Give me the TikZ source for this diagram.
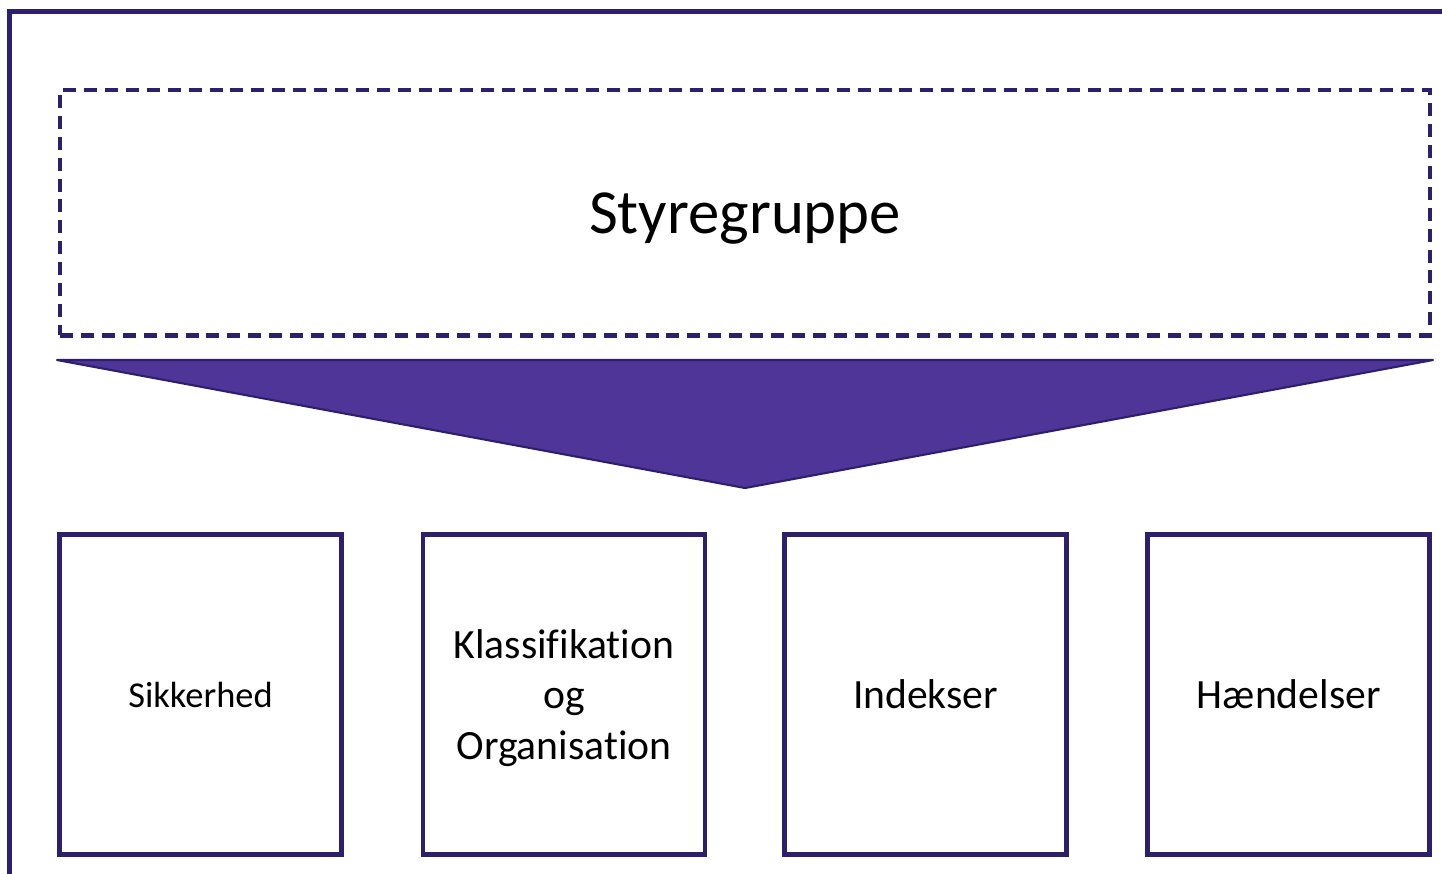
\documentclass[tikz,border=0pt]{standalone}
\usepackage{fontspec}
\setmainfont{Carlito}[Ligatures=NoCommon]
\definecolor{frame}{HTML}{2E1F6C}
\definecolor{arrowfill}{HTML}{4F3597}

\begin{document}
\begin{tikzpicture}
  [x=0.02cm,y=-0.02cm,
   every node/.style={draw=frame,line width=2.8pt,align=center,text depth=0pt},
   area/.style={minimum width=5.64cm,minimum height=6.4cm,font=\fontsize{23.7}{28.9}\selectfont},
   group/.style={dash pattern=on 7.4pt off 4.5pt,line width=2.55pt,
     minimum width=27.4cm,minimum height=4.91cm,font=\fontsize{35.7}{43}\selectfont}]
  \useasboundingbox (0,0) rectangle (1442,873);
  \clip (0,0) rectangle (1442,873);
  % outer frame, runs off the page
  \draw[frame,line width=2.8pt] (9.5,1000) -- (9.5,11.5) -- (1500,11.5);
  \node[group] (styr) at (745,212.75) {Styregruppe};
  % arrow down to the groups
  \coordinate (l) at (57,360);
  \coordinate (r) at (1433,360);
  \coordinate (tip) at (745,488);
  \filldraw[fill=arrowfill,draw=frame,line width=1.2pt,line join=round] (l) -- (r) -- (tip) -- cycle;
  \node[area,font=\fontsize{20.75}{25}\selectfont] (sik) at (200.5,694.5) {Sikkerhed};
  \node[area] (klas) at (564,694.5) {Klassifikation\\og\\Organisation};
  \node[area] (idx) at (925.5,694.5) {Indekser};
  \node[area] (hand) at (1288.75,694.5) {Hændelser};
\end{tikzpicture}
\end{document}
